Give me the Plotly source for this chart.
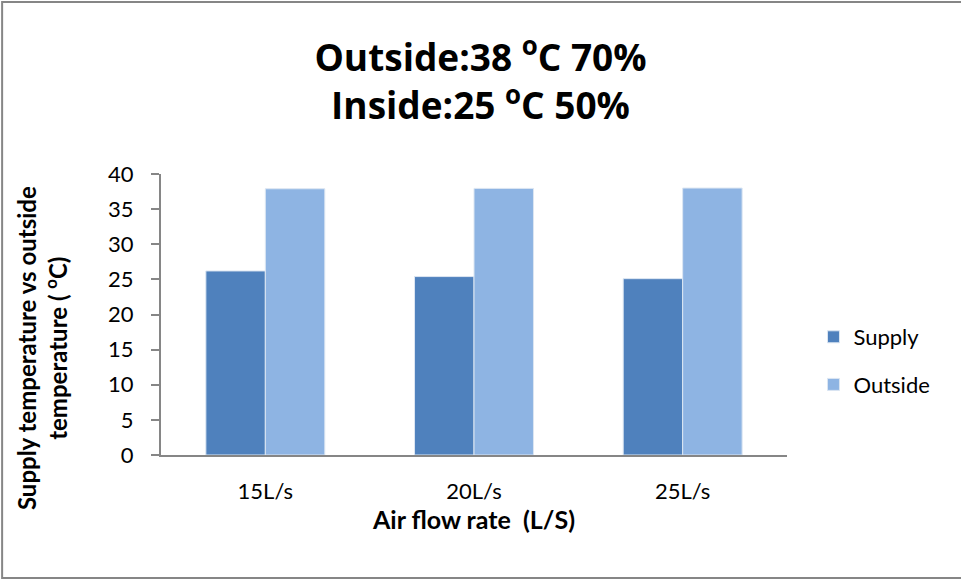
import plotly.graph_objects as go

categories = ["15L/s", "20L/s", "25L/s"]
supply = [26.2, 25.4, 25.1]
outside = [37.9, 37.95, 38.0]
y_ticks = [0, 5, 10, 15, 20, 25, 30, 35, 40]

FONT = "Lato, 'Open Sans', sans-serif"
AXIS_GRAY = "#868686"

fig = go.Figure()
fig.add_trace(go.Bar(x=categories, y=supply, name="Supply", legendgroup="a",
                     marker=dict(color="#4F81BD", line=dict(color="#DCE6F2", width=1))))
fig.add_trace(go.Bar(x=categories, y=outside, name="Outside", legendgroup="b",
                     marker=dict(color="#8EB4E3", line=dict(color="#DCE6F2", width=1))))

L, R, T, B = 161, 173.5, 174, 125
W, H = 961, 580
pw, ph = W - L - R, H - T - B

def px(xp):
    return (xp - L) / pw

def py(yp):
    return (H - B - yp) / ph

fig.update_layout(
    width=W, height=H,
    margin=dict(l=L, r=R, t=T, b=B),
    paper_bgcolor="white", plot_bgcolor="white",
    font=dict(family=FONT, color="#000000", size=22),
    barmode="group", bargap=0.43, bargroupgap=0,
    title=dict(text="<b>Outside:38 <sup>o</sup>C 70%<br>Inside:25 <sup>o</sup>C 50%</b>",
               x=0.5, xanchor="center", xref="container",
               y=1 - 71 / H, yanchor="middle", yref="container",
               font=dict(size=37, family="'Open Sans', Lato, sans-serif", color="#000000")),
    xaxis=dict(showline=True, linecolor=AXIS_GRAY, linewidth=2, ticks="",
               showgrid=False, tickfont=dict(size=22), ticklabelstandoff=16,
               title=dict(text="<b>Air flow rate  (L/S)</b>", font=dict(size=25), standoff=8)),
    yaxis=dict(range=[0, 40], tickvals=y_ticks, showline=True, linecolor=AXIS_GRAY, linewidth=2,
               ticks="outside", ticklen=8, tickcolor=AXIS_GRAY, tickwidth=2,
               showgrid=False, zeroline=False, tickfont=dict(size=22),
               ticklabelstandoff=13),
    legend=dict(x=px(814), xanchor="left", y=py(361), yanchor="middle",
                font=dict(size=22), tracegroupgap=16, bgcolor="rgba(0,0,0,0)"),
    annotations=[
        dict(text="<b>Supply temperature vs outside<br>temperature ( <sup>o</sup>C)</b>",
             textangle=-90, xref="paper", yref="paper",
             x=px(42), y=py(348), xanchor="center", yanchor="middle",
             showarrow=False, font=dict(size=24, color="#000000")),
    ],
    shapes=[dict(type="rect", xref="paper", yref="paper",
                 x0=px(2), x1=px(990), y0=py(578), y1=py(2),
                 line=dict(color=AXIS_GRAY, width=2), fillcolor="rgba(0,0,0,0)", layer="below")],
)

fig.write_html("out.html", config={"displayModeBar": False},
               post_script="document.body.style.margin='0';document.body.style.padding='0';")
